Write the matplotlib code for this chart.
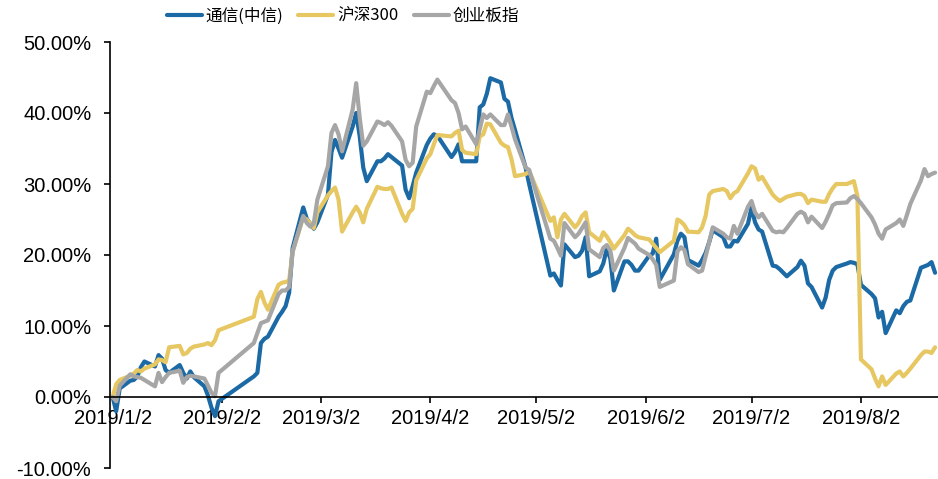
import pandas as pd
import matplotlib
matplotlib.use('Agg')
import matplotlib.pyplot as plt
import matplotlib.dates as mdates
from matplotlib.ticker import FuncFormatter, MultipleLocator

plt.rcParams['font.family'] = ['Liberation Sans', 'Noto Sans CJK SC', 'DejaVu Sans']

# 交易日（2019年，剔除春节、清明、五一、端午休市）
holidays = ['2019-02-04', '2019-02-05', '2019-02-06', '2019-02-07', '2019-02-08',
            '2019-04-05', '2019-05-01', '2019-05-02', '2019-05-03', '2019-06-07']
dates = pd.bdate_range('2019-01-02', '2019-08-23')
dates = dates[~dates.isin(pd.to_datetime(holidays))]

# 累计涨跌幅（%），按月排列
tongxin = [
    0.0, -2.0, 1.2, 2.3, 2.4, 2.9, 4.2, 5.0, 4.3, 5.9, 5.4, 3.8, 3.4, 4.5, 3.4, 2.6, 3.6, 2.8, 1.5, 0.2, -1.5, -2.7,
    -0.6, 2.9, 3.4, 7.6, 8.2, 8.5, 11.3, 12.0, 12.8, 14.7, 21.0, 26.7, 25.1, 24.4, 23.7,
    24.6, 28.5, 34.5, 36.2, 35.0, 33.7, 38.1, 40.0, 36.7, 32.3, 30.4, 33.2, 33.2, 33.6, 34.2, 33.8, 32.6, 29.2, 28.0, 29.7, 31.6,
    35.5, 36.4, 37.0, 36.8, 33.8, 34.5, 35.6, 33.2, 33.2, 33.2, 40.8, 41.2, 42.7, 44.9, 44.3, 42.0, 41.6, 39.3, 37.6, 32.3, 30.0,
    17.1, 17.4, 16.5, 15.7, 21.5, 19.7, 19.9, 20.6, 22.5, 17.0, 17.7, 18.8, 20.9, 19.5, 15.0, 19.1, 19.1, 18.6, 17.8, 17.8,
    19.9, 20.2, 22.3, 16.5, 20.1, 22.0, 23.0, 22.5, 19.3, 18.5, 19.3, 20.3, 21.8, 23.5, 22.5, 21.2, 21.2, 22.0, 21.9,
    24.4, 26.7, 24.6, 23.6, 23.3, 18.5, 18.4, 18.0, 17.5, 17.0, 18.3, 19.2, 18.5, 16.0, 15.5, 12.6, 14.0, 16.5, 17.8, 18.3, 18.8, 19.0, 18.9,
    18.7, 15.8, 14.5, 13.9, 11.2, 12.0, 9.0, 12.2, 11.8, 12.8, 13.4, 13.6, 18.2, 18.4, 18.6, 19.0, 17.5,
]
hs300 = [
    0.0, 1.8, 2.4, 3.0, 3.3, 3.8, 3.6, 4.0, 4.6, 5.3, 5.2, 4.9, 7.0, 7.2, 6.0, 6.2, 6.8, 7.1, 7.4, 7.6, 7.3, 8.0,
    9.4, 11.3, 13.8, 14.8, 13.3, 12.3, 15.8, 16.1, 16.2, 16.4, 20.5, 25.3, 25.0, 24.4, 23.8,
    26.0, 28.4, 29.0, 29.5, 27.8, 23.3, 26.0, 26.8, 26.0, 24.6, 26.5, 29.6, 29.4, 29.3, 29.3, 29.5, 25.8, 24.8, 26.0, 26.5, 30.5,
    33.6, 34.2, 35.6, 36.9, 36.7, 37.2, 37.5, 34.8, 34.4, 34.2, 36.7, 37.0, 38.5, 38.4, 35.8, 35.4, 35.2, 33.5, 31.1, 31.4, 31.8,
    24.8, 25.3, 22.5, 25.0, 25.8, 23.9, 24.5, 25.5, 26.0, 23.2, 22.0, 23.2, 22.6, 21.8, 20.9, 22.8, 23.7, 23.3, 22.8, 22.5,
    22.2, 21.6, 21.0, 20.4, 22.0, 25.0, 24.7, 24.2, 23.3, 23.2, 23.9, 25.5, 28.5, 29.0, 29.3, 29.0, 28.0, 28.7, 29.0,
    31.5, 32.5, 32.2, 30.6, 31.0, 28.5, 28.0, 27.6, 27.9, 28.2, 28.6, 28.6, 28.3, 27.3, 27.8, 27.5, 27.5, 28.6, 29.4, 30.0, 30.0, 30.2, 30.4,
    28.3, 5.3, 3.9, 2.6, 1.5, 2.9, 1.7, 3.3, 3.6, 2.9, 3.4, 4.0, 5.9, 6.4, 6.4, 6.2, 7.0,
]
chuangye = [
    0.0, -0.6, 1.6, 3.2, 2.9, 2.8, 2.7, 2.4, 1.5, 3.4, 2.1, 2.8, 3.4, 3.7, 2.0, 2.8, 3.0, 2.9, 2.6, 1.6, 0.6, 0.1,
    3.4, 7.6, 9.0, 10.4, 10.6, 10.8, 14.5, 15.0, 15.0, 15.5, 20.5, 25.5, 24.5, 24.0, 24.5,
    27.8, 32.5, 37.2, 38.3, 37.0, 34.6, 40.5, 44.2, 39.3, 35.4, 36.0, 38.8, 38.6, 38.3, 38.7, 38.2, 36.0, 33.4, 32.5, 33.0, 38.1,
    43.0, 42.8, 43.8, 44.7, 41.8, 41.4, 40.0, 37.7, 38.1, 35.6, 37.7, 39.8, 39.3, 39.8, 38.3, 38.3, 39.8, 38.1, 36.3, 32.3, 32.0,
    22.3, 22.0, 21.0, 19.9, 24.5, 22.5, 23.0, 23.8, 24.6, 20.8, 19.7, 21.0, 21.4, 20.6, 17.8, 21.0, 22.4, 22.0, 21.6, 20.9,
    20.0, 19.4, 18.6, 15.5, 16.4, 20.5, 21.1, 20.7, 18.7, 17.6, 17.8, 19.8, 21.8, 23.9, 23.0, 22.5, 22.3, 24.1, 23.0,
    26.8, 27.6, 26.0, 25.3, 25.8, 23.4, 23.2, 23.3, 23.2, 23.8, 25.8, 26.1, 25.8, 24.6, 25.4, 23.8, 24.7, 25.8, 27.0, 27.3, 27.4, 28.0, 28.3,
    27.9, 27.3, 25.3, 24.3, 23.0, 22.3, 23.6, 24.5, 25.0, 24.1, 25.6, 27.2, 30.5, 32.1, 31.1, 31.4, 31.6,
]
series_names = ['通信(中信)', '沪深300', '创业板指']
colors = ['#1b6aa5', '#e6c762', '#a6a6a6']

fig = plt.figure(figsize=(9.38, 4.79), dpi=100)
ax = fig.add_axes([110 / 938, 11 / 479, 828 / 938, 426 / 479])

for vals, name, c in zip([tongxin, hs300, chuangye], series_names, colors):
    ax.plot(dates, vals, color=c, lw=3, label=name,
            solid_joinstyle='round', solid_capstyle='round')

ax.set_ylim(-10, 50)
ax.yaxis.set_major_locator(MultipleLocator(10))
ax.yaxis.set_major_formatter(FuncFormatter(lambda v, p: f'{v:.2f}%'))
ax.set_xlim(pd.Timestamp('2019-01-02') - pd.Timedelta(hours=18),
            pd.Timestamp('2019-08-23') + pd.Timedelta(hours=20))
ax.xaxis.set_major_locator(mdates.MonthLocator(bymonthday=2))
ax.xaxis.set_major_formatter(FuncFormatter(
    lambda v, p: (lambda d: f'{d.year}/{d.month}/{d.day}')(mdates.num2date(v))))

for s in ['top', 'right']:
    ax.spines[s].set_visible(False)
ax.spines['bottom'].set_position(('data', 0))
ax.spines['bottom'].set_linewidth(1.2)
ax.spines['left'].set_linewidth(1.2)
ax.tick_params(axis='both', direction='out', length=4.5, width=1.2,
               labelsize=14.5, colors='black')
ax.tick_params(axis='y', pad=9)
ax.tick_params(axis='x', pad=4)

ax.legend(loc='center', bbox_to_anchor=(343 / 938, 1 - 16 / 479),
          bbox_transform=fig.transFigure, ncol=3, frameon=False,
          prop={'family': ['Noto Sans CJK SC'], 'size': 12},
          handlelength=2.1, handletextpad=0.25, columnspacing=0.9)

fig.savefig('out.png', dpi=100)
